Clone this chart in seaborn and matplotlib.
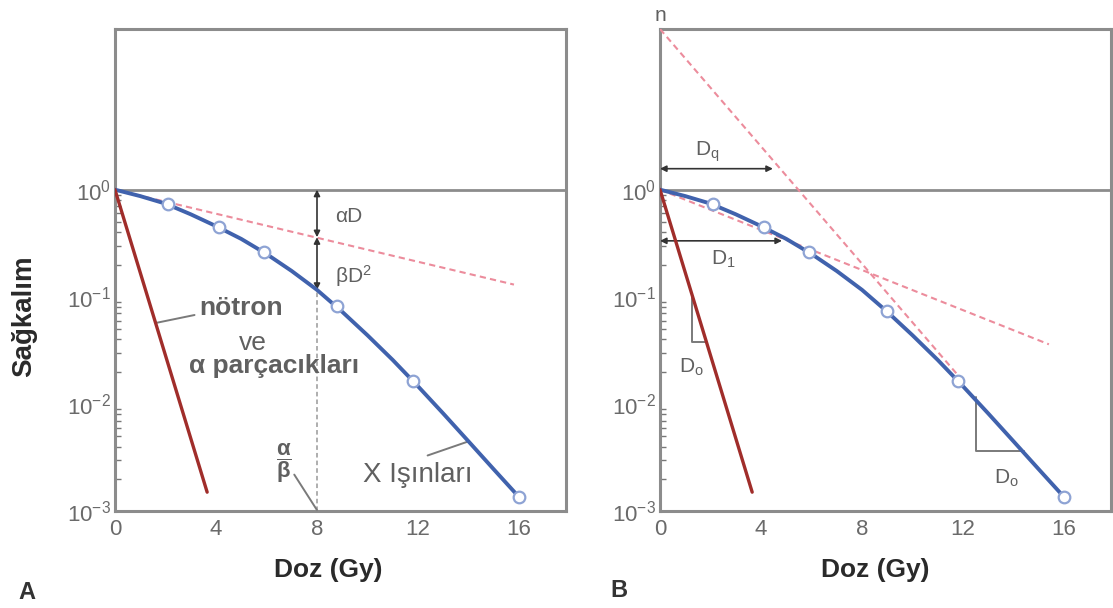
import numpy as np
import matplotlib
matplotlib.use("Agg")
import matplotlib.pyplot as plt
import matplotlib.ticker as mticker
import seaborn as sns

# --------------------------------------------------
# Data
# --------------------------------------------------
dose_curve = [0, 1, 2, 3, 4, 5, 6, 7, 8, 9, 10, 11, 12, 13, 14, 15, 16]
surv_xray = [1.0, 0.871, 0.741, 0.589, 0.457, 0.347, 0.251, 0.174, 0.116,
             0.0724, 0.0437, 0.0257, 0.0146, 0.00813, 0.00447, 0.00245, 0.00135]

dose_pts_a = [2.1, 4.1, 5.9, 8.8, 11.8, 16.0]
surv_pts_a = [0.73, 0.45, 0.26, 0.082, 0.0164, 0.00135]
dose_pts_b = [2.1, 4.1, 5.9, 9.0, 11.8, 16.0]
surv_pts_b = [0.73, 0.45, 0.26, 0.074, 0.0164, 0.00135]

dose_neutron = [0, 3.65]
surv_neutron = [1.0, 0.0015]

dose_alpha_a = [0, 15.8]
surv_alpha_a = [1.0, 0.13]
dose_init_b = [0, 15.4]
surv_init_b = [1.0, 0.036]
dose_term_b = [0, 11.8]
surv_term_b = [31.6, 0.0185]

x_ticks = [0, 4, 8, 12, 16]
y_ticks = [1e-3, 1e-2, 1e-1, 1]

BLUE = "#4062ad"
RED = "#a02d2a"
PINK = "#ec8c9c"
GREY = "#8c8c8c"
TXT = "#606060"

sns.set_theme(style="white")
plt.rcParams["font.family"] = ["Liberation Sans", "DejaVu Sans"]
plt.rcParams["mathtext.fontset"] = "custom"
plt.rcParams["mathtext.rm"] = "Liberation Sans"
plt.rcParams["mathtext.it"] = "Liberation Sans"
plt.rcParams["mathtext.bf"] = "Liberation Sans:bold"
plt.rcParams["mathtext.default"] = "regular"

fig = plt.figure(figsize=(11.13, 6.08), dpi=100)
ax_a = fig.add_axes([0.1033, 0.1595, 0.405, 0.7928])
ax_b = fig.add_axes([0.5930, 0.1595, 0.405, 0.7928])


def style_axes(ax):
    ax.set_yscale("log")
    ax.set_xlim(0, 17.85)
    ax.set_ylim(1e-3, 10 ** 1.5)
    for sp in ax.spines.values():
        sp.set_color(GREY)
        sp.set_linewidth(2.2)
    ax.axhline(1, color=GREY, lw=2.0, zorder=1)
    ax.set_xticks(x_ticks)
    ax.yaxis.set_major_locator(mticker.FixedLocator(y_ticks))
    minors = [m * 10.0 ** e for e in (-3, -2, -1) for m in range(2, 10)]
    ax.yaxis.set_minor_locator(mticker.FixedLocator(minors))
    ax.yaxis.set_minor_formatter(mticker.NullFormatter())
    ax.tick_params(axis="both", which="major", direction="in", length=7,
                   width=1.5, color="#666666", labelsize=16, labelcolor="#6a6a6a")
    ax.tick_params(axis="y", which="major", pad=3)
    ax.tick_params(axis="x", which="major", pad=6)
    ax.tick_params(axis="y", which="minor", direction="in", length=4,
                   width=1.0, color="#777777", left=True)
    ax.set_xlabel("")
    ax.set_ylabel("")
    ax.grid(False)


def draw_curves(ax, dpts, spts):
    sns.lineplot(x=dose_curve, y=surv_xray, ax=ax, color=BLUE, lw=2.8, zorder=4)
    sns.lineplot(x=dose_neutron, y=surv_neutron, ax=ax, color=RED, lw=2.4, zorder=4)
    sns.scatterplot(x=dpts, y=spts, ax=ax, s=70, color="white",
                    edgecolor="#8ea3d4", linewidth=1.6, zorder=6)


ann = dict(color="#7a7a7a", lw=1.4)
arrow = dict(arrowstyle="<|-|>", color="#333333", lw=1.2,
             mutation_scale=9, shrinkA=0, shrinkB=0)
leader = dict(arrowstyle="-", color="#7a7a7a", lw=1.4, shrinkA=0, shrinkB=0)

# --------------------------------------------------
# Panel A
# --------------------------------------------------
ax = ax_a
sns.lineplot(x=dose_alpha_a, y=surv_alpha_a, ax=ax, color=PINK, lw=1.5,
             linestyle=(0, (3, 2)), zorder=3)
draw_curves(ax, dose_pts_a, surv_pts_a)

ax.plot([8, 8], [1e-3, 0.116], color="#999999", lw=1.1,
        linestyle=(0, (3, 2)), zorder=2)
ax.annotate("", xy=(8, 0.36), xytext=(8, 1.0), arrowprops=arrow)
ax.annotate("", xy=(8, 0.116), xytext=(8, 0.36), arrowprops=arrow)
ax.text(8.7, 0.56, "αD", fontsize=15, color=TXT, va="center", ha="left")
ax.text(8.7, 0.155, r"βD$^2$", fontsize=15, color=TXT, va="center", ha="left")

ax.text(5.0, 10 ** -1.10, "nötron", fontsize=19, fontweight="bold",
        color=TXT, ha="center", va="center")
ax.text(5.45, 10 ** -1.43, "ve", fontsize=19, color=TXT,
        ha="center", va="center")
ax.text(6.3, 10 ** -1.65, "α parçacıkları", fontsize=19, fontweight="bold",
        color=TXT, ha="center", va="center")
ax.annotate("", xy=(1.62, 0.057), xytext=(3.15, 0.0676), arrowprops=leader)

ax.text(12.0, 10 ** -2.66, "X Işınları", fontsize=20, color=TXT,
        ha="center", va="center")
ax.annotate("", xy=(14.0, 0.00447), xytext=(12.38, 0.0033), arrowprops=leader)

ax.text(6.7, 10 ** -2.55, r"$\mathbf{\dfrac{α}{β}}$", fontsize=16, color=TXT,
        ha="center", va="center")
ax.annotate("", xy=(8.0, 0.00102), xytext=(7.1, 10 ** -2.66), arrowprops=leader)
style_axes(ax)

# --------------------------------------------------
# Panel B
# --------------------------------------------------
ax = ax_b
sns.lineplot(x=dose_init_b, y=surv_init_b, ax=ax, color=PINK, lw=1.5,
             linestyle=(0, (3, 2)), zorder=3)
sns.lineplot(x=dose_term_b, y=surv_term_b, ax=ax, color=PINK, lw=1.5,
             linestyle=(0, (3, 2)), zorder=3)
draw_curves(ax, dose_pts_b, surv_pts_b)

ax.annotate("", xy=(4.47, 1.57), xytext=(0.0, 1.57), arrowprops=arrow)
ax.annotate("", xy=(4.83, 0.333), xytext=(0.0, 0.333), arrowprops=arrow)
ax.text(1.4, 2.24, r"D$_q$", fontsize=15, color=TXT, ha="left", va="center")
ax.text(2.0, 0.226, r"D$_1$", fontsize=15, color=TXT, ha="left", va="center")
ax.text(0.0, 10 ** 1.63, "n", fontsize=15, color=TXT, ha="center",
        va="center", clip_on=False)

ax.plot([1.27, 1.27, 1.83], [0.102, 0.038, 0.038], **ann, zorder=2)
ax.text(1.25, 0.022, r"D$_o$", fontsize=15, color=TXT, ha="center", va="center")
ax.plot([12.5, 12.5, 14.4], [0.0115, 0.00363, 0.00363], **ann, zorder=2)
ax.text(13.7, 0.00204, r"D$_o$", fontsize=15, color=TXT, ha="center", va="center")
style_axes(ax)

# --------------------------------------------------
# Figure labels
# --------------------------------------------------
fig.text(0.0215, 0.48, "Sağkalım", rotation=90, fontsize=20,
         fontweight="bold", color="#2a2a2a", ha="center", va="center")
fig.text(0.2947, 0.0625, "Doz (Gy)", fontsize=19, fontweight="bold",
         color="#2a2a2a", ha="center", va="center")
fig.text(0.7866, 0.0625, "Doz (Gy)", fontsize=19, fontweight="bold",
         color="#2a2a2a", ha="center", va="center")
fig.text(0.0245, 0.0247, "A", fontsize=17, fontweight="bold",
         color="#333333", ha="center", va="center")
fig.text(0.556, 0.028, "B", fontsize=17, fontweight="bold",
         color="#333333", ha="center", va="center")

fig.savefig("out.png", dpi=100)
plt.close(fig)
